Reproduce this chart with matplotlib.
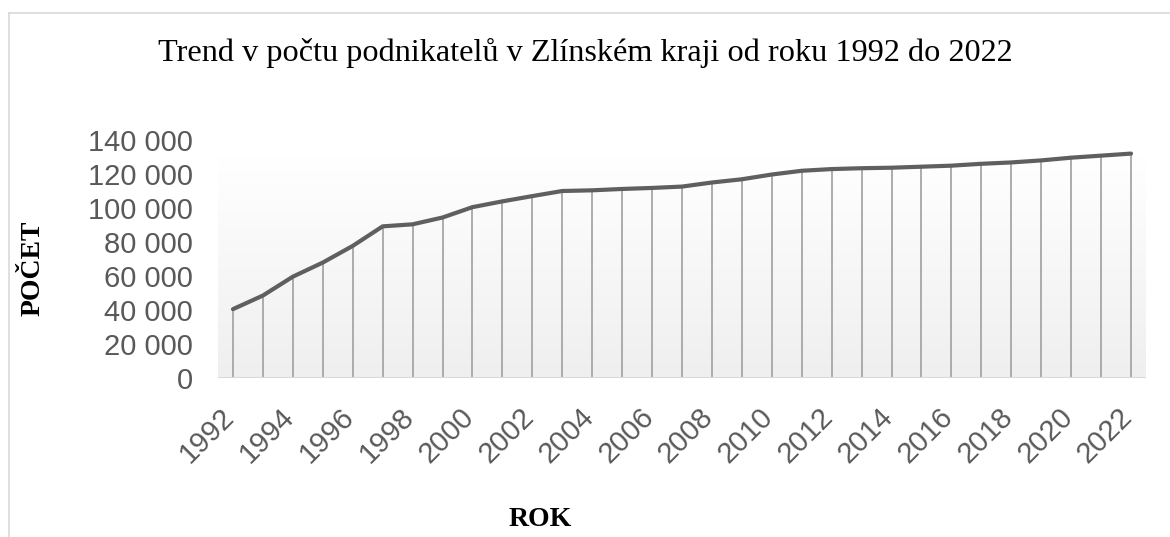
import numpy as np
import matplotlib.pyplot as plt
from matplotlib.lines import Line2D
from matplotlib.colors import LinearSegmentedColormap
from matplotlib.transforms import ScaledTranslation

# Data
years = list(range(1992, 2023))
counts = [40500, 48500, 59600, 67900, 77700, 89200, 90400, 94400, 100500, 103900,
          107000, 110000, 110400, 111200, 111800, 112600, 115000, 116900, 119700, 121900,
          122900, 123400, 123700, 124300, 124900, 126000, 126800, 128000, 129600, 130800,
          132000]
yticks = [0, 20000, 40000, 60000, 80000, 100000, 120000, 140000]
xtick_years = years[::2]

W, H = 1170, 537
fig = plt.figure(figsize=(W / 100, H / 100), dpi=100)
fig.patch.set_facecolor('white')

# light frame around the chart (left and top edges visible)
fig.add_artist(Line2D([8.5 / W, 8.5 / W], [0, 1 - 12.7 / H], transform=fig.transFigure,
                      color='#d9d9d9', lw=1.2))
fig.add_artist(Line2D([8.5 / W, 1], [1 - 12.7 / H, 1 - 12.7 / H], transform=fig.transFigure,
                      color='#d9d9d9', lw=1.2))

ax = fig.add_axes([218 / W, 1 - 378 / H, (1146 - 218) / W, (378 - 140) / H])
ax.set_xlim(1991.5, 2022.5)

# gradient plot area: white at top, light grey at bottom
grad = np.linspace(1, 0, 256).reshape(-1, 1)
cmap = LinearSegmentedColormap.from_list('g', ['#efefef', '#ffffff'])
ax.imshow(grad, cmap=cmap, aspect='auto',
          extent=[1991.5, 2022.5, 0, 130000], origin='upper', zorder=0)
ax.set_ylim(0, 140000)

ax.vlines(years, 0, counts, color='#a6a6a6', lw=1.3, zorder=2)
ax.axhline(0, color='#d9d9d9', lw=1.5, zorder=3)
ax.plot(years, counts, color='#5f5f5f', lw=3.0, solid_capstyle='round', zorder=4)

for s in ax.spines.values():
    s.set_visible(False)

ax.set_yticks(yticks)
ax.set_yticklabels([f'{v:,}'.replace(',', ' ') for v in yticks],
                   fontsize=21, color='#595959', family='Liberation Sans')
ax.set_xticks(xtick_years)
ax.set_xticklabels([str(y) for y in xtick_years], rotation=45, ha='right',
                   fontsize=21, color='#595959', family='Liberation Sans')
ax.tick_params(axis='y', length=0, pad=18)
ax.tick_params(axis='x', length=0, pad=18)
for lab in ax.get_xticklabels():
    lab.set_transform(lab.get_transform() + ScaledTranslation(0.07, 0, fig.dpi_scale_trans))

fig.text(0.5, 1 - 53 / H, 'Trend v počtu podnikatelů v Zlínském kraji od roku 1992 do 2022',
         ha='center', va='center', fontsize=23.2, family='Liberation Serif', color='black')
fig.text(33 / W, 1 - 268 / H, 'POČET', rotation=90, ha='center', va='center',
         fontsize=20, fontweight='bold', family='Liberation Serif')
fig.text(540 / W, 1 - 520 / H, 'ROK', ha='center', va='center',
         fontsize=20, fontweight='bold', family='Liberation Serif')

fig.savefig('out.png', dpi=100)
